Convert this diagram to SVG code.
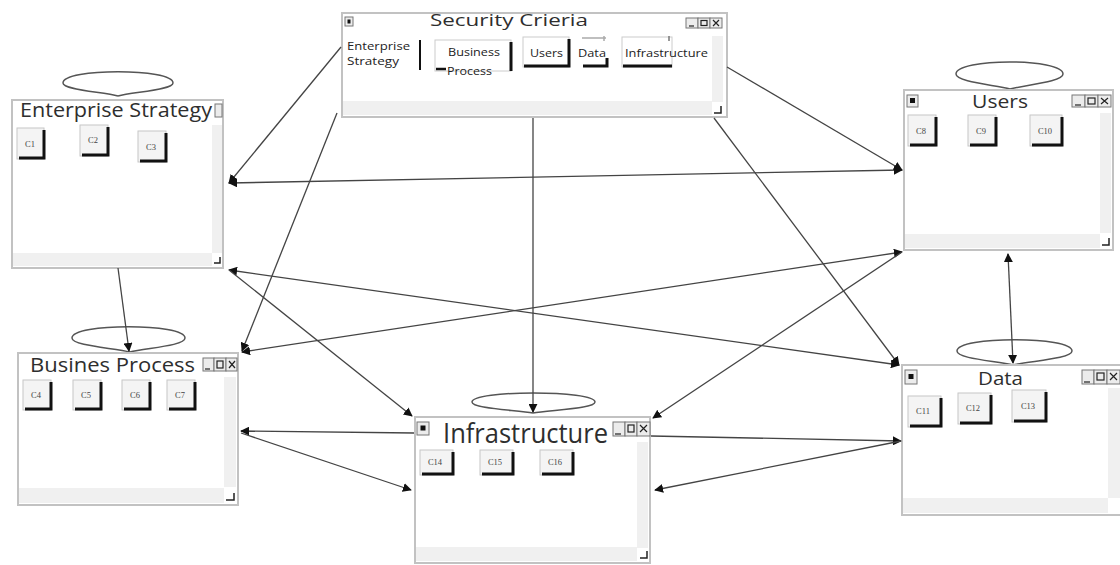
<svg xmlns="http://www.w3.org/2000/svg" width="1120" height="565" viewBox="0 0 1120 565">
<defs>
<marker id="ah" viewBox="0 0 10 10" refX="9" refY="5" markerWidth="9" markerHeight="9" markerUnits="userSpaceOnUse" orient="auto-start-reverse">
<path d="M0,0 L10,5 L0,10 z" fill="#111"/>
</marker>
<style>
.frame{fill:#fff;stroke:#c2c2c2;stroke-width:2}
.sb{fill:#f0f0f0;stroke:none}
.grip{fill:none;stroke:#222;stroke-width:1.5}
.title{font-family:"Open Sans","Noto Sans",sans-serif;fill:#2e2e2e}
.btn{fill:#f4f4f4;stroke:#c6c6c6;stroke-width:1}
.sh{fill:none;stroke:#111;stroke-width:3}
.bl{font-family:"Liberation Serif",serif;font-size:8.5px;fill:#444;text-anchor:middle}
.ico{fill:#ececec;stroke:#777;stroke-width:1}
.glyph{fill:none;stroke:#222;stroke-width:1.2}
.loop{fill:none;stroke:#555;stroke-width:1.5}
.con{fill:none;stroke:#444;stroke-width:1.3}
.tab{font-family:"Open Sans","Noto Sans",sans-serif;font-size:10px;fill:#222}
</style>
</defs>
<rect width="1120" height="565" fill="#fff"/>

<!-- Self loops -->
<g id="loops">
<path class="loop" d="M118,96 C103,92 63,90 63,83 C63,68 173,68 173,83 C173,90 133,92 118,96"/>
<path class="loop" d="M1010,89 C995,85 956,82 956,74 C956,58 1063,58 1063,74 C1063,82 1025,85 1010,89"/>
<path class="loop" d="M130,352 C115,348 72,346 72,338 C72,323 185,323 185,338 C185,346 145,348 130,352"/>
<path class="loop" d="M533,413 C518,410 472,409 472,402 C472,390 595,390 595,402 C595,409 548,410 533,413"/>
<path class="loop" d="M1013,365 C998,361 957,359 957,351 C957,336 1072,336 1072,351 C1072,359 1028,361 1013,365"/>
</g>

<!-- Security Crieria -->
<g id="security">
<rect class="frame" x="342" y="13" width="385" height="104"/>
<rect class="sb" x="712" y="36" width="11" height="66"/>
<rect class="sb" x="343" y="101" width="369" height="14"/>
<path class="grip" d="M714,113 H721 V106"/>
<rect class="ico" x="345" y="17" width="8" height="9"/><rect x="347.5" y="19.5" width="3" height="4" fill="#111"/>
<g transform="translate(686,18)">
<rect class="ico" x="0" y="0" width="12" height="10"/><path class="glyph" d="M3,8 H8"/>
<rect class="ico" x="12" y="0" width="12" height="10"/><rect class="glyph" x="15" y="2.5" width="6" height="5"/>
<rect class="ico" x="24" y="0" width="12" height="10"/><path class="glyph" d="M27,2 L33,8 M33,2 L27,8"/>
</g>
<text class="title" x="430" y="26" font-size="17" textLength="158" lengthAdjust="spacingAndGlyphs">Security Crieria</text>
<text class="tab" x="347" y="50" textLength="63" lengthAdjust="spacingAndGlyphs">Enterprise</text>
<text class="tab" x="347" y="65" textLength="52" lengthAdjust="spacingAndGlyphs">Strategy</text>
<path d="M420,40 V70" stroke="#111" stroke-width="2"/>
<rect x="435" y="40" width="76" height="31" fill="#fff" stroke="#ccc"/>
<path d="M511,42 V71" stroke="#111" stroke-width="3"/>
<path d="M436,69 H446" stroke="#111" stroke-width="2.5"/>
<text class="tab" x="448" y="56" textLength="52" lengthAdjust="spacingAndGlyphs">Business</text>
<text class="tab" x="447" y="75" textLength="45" lengthAdjust="spacingAndGlyphs">Process</text>
<rect x="523" y="37" width="46" height="30" fill="#fff" stroke="#ccc"/>
<path class="sh" d="M524,66 H569 V39"/>
<text class="tab" x="530" y="57" textLength="33" lengthAdjust="spacingAndGlyphs">Users</text>
<path d="M582,38 H606 M604,36 V41" stroke="#aaa" stroke-width="1.5"/>
<path class="sh" d="M583,66 H607 V58"/>
<text class="tab" x="578" y="57" textLength="28" lengthAdjust="spacingAndGlyphs">Data</text>
<rect x="622" y="37" width="50" height="30" fill="#fff" stroke="#ccc"/>
<path d="M669,36 V41" stroke="#777" stroke-width="1.5"/>
<path d="M623,66 H672" stroke="#111" stroke-width="3"/>
<text class="tab" x="625" y="57" textLength="83" lengthAdjust="spacingAndGlyphs">Infrastructure</text>
</g>

<!-- Enterprise Strategy -->
<g id="enterprise-strategy">
<rect class="frame" x="12" y="100" width="211" height="168"/>
<rect class="sb" x="212" y="125" width="10" height="128"/>
<rect class="sb" x="13" y="253" width="199" height="13"/>
<path class="grip" d="M214,263 H220 V257"/>
<rect class="ico" x="215" y="104" width="7" height="13"/>
<text class="title" x="20" y="117" font-size="20" textLength="192" lengthAdjust="spacingAndGlyphs">Enterprise Strategy</text>
<rect class="btn" x="17" y="128" width="27" height="31"/><path class="sh" d="M19,158 H44 V130"/><text class="bl" x="30" y="147">C1</text>
<rect class="btn" x="80" y="125" width="28" height="31"/><path class="sh" d="M82,155 H108 V127"/><text class="bl" x="93" y="143">C2</text>
<rect class="btn" x="138" y="131" width="28" height="31"/><path class="sh" d="M140,161 H166 V133"/><text class="bl" x="151" y="150">C3</text>
</g>

<!-- Users -->
<g id="users">
<rect class="frame" x="904" y="90" width="209" height="160"/>
<rect class="sb" x="1100" y="113" width="11" height="120"/>
<rect class="sb" x="905" y="234" width="195" height="14"/>
<path class="grip" d="M1102,245 H1109 V238"/>
<rect class="ico" x="907" y="95" width="11" height="12"/><rect x="910" y="98" width="5" height="5" fill="#111"/>
<g transform="translate(1072,95)">
<rect class="ico" x="0" y="0" width="13" height="12"/><path class="glyph" d="M3,10 H9"/>
<rect class="ico" x="13" y="0" width="13" height="12"/><rect class="glyph" x="16" y="3" width="7" height="6"/>
<rect class="ico" x="26" y="0" width="13" height="12"/><path class="glyph" d="M29,3 L36,9 M36,3 L29,9"/>
</g>
<text class="title" x="972" y="108" font-size="19" textLength="56" lengthAdjust="spacingAndGlyphs">Users</text>
<rect class="btn" x="908" y="115" width="28" height="31"/><path class="sh" d="M910,145 H936 V117"/><text class="bl" x="921" y="134">C8</text>
<rect class="btn" x="968" y="115" width="28" height="31"/><path class="sh" d="M970,145 H996 V117"/><text class="bl" x="981" y="134">C9</text>
<rect class="btn" x="1030" y="115" width="32" height="31"/><path class="sh" d="M1032,145 H1062 V117"/><text class="bl" x="1045" y="134">C10</text>
</g>

<!-- Busines Process -->
<g id="business-process">
<rect class="frame" x="18" y="353" width="220" height="152"/>
<rect class="sb" x="224" y="377" width="12" height="110"/>
<rect class="sb" x="19" y="488" width="205" height="15"/>
<path class="grip" d="M226,500 H234 V493"/>
<g transform="translate(203,358)">
<rect class="ico" x="0" y="0" width="11" height="13"/><path class="glyph" d="M2,11 H7"/>
<rect class="ico" x="11" y="0" width="12" height="13"/><rect class="glyph" x="14" y="3" width="6" height="7"/>
<rect class="ico" x="23" y="0" width="11" height="13"/><path class="glyph" d="M26,3 L32,10 M32,3 L26,10"/>
</g>
<text class="title" x="30" y="372" font-size="20" textLength="165" lengthAdjust="spacingAndGlyphs">Busines Process</text>
<rect class="btn" x="23" y="380" width="28" height="30"/><path class="sh" d="M25,409 H51 V382"/><text class="bl" x="36" y="398">C4</text>
<rect class="btn" x="73" y="380" width="28" height="30"/><path class="sh" d="M75,409 H101 V382"/><text class="bl" x="86" y="398">C5</text>
<rect class="btn" x="122" y="380" width="28" height="30"/><path class="sh" d="M124,409 H150 V382"/><text class="bl" x="135" y="398">C6</text>
<rect class="btn" x="167" y="380" width="28" height="30"/><path class="sh" d="M169,409 H195 V382"/><text class="bl" x="180" y="398">C7</text>
</g>

<!-- Infrastructure -->
<g id="infrastructure">
<rect class="frame" x="415" y="417" width="235" height="146"/>
<rect class="sb" x="637" y="442" width="11" height="106"/>
<rect class="sb" x="416" y="547" width="221" height="14"/>
<path class="grip" d="M640,558 H647 V551"/>
<rect class="ico" x="417" y="422" width="12" height="13"/><rect x="420.5" y="425.5" width="5" height="5" fill="#111"/>
<g transform="translate(613,422)">
<rect class="ico" x="0" y="0" width="12" height="14"/><path class="glyph" d="M2,12 H8"/>
<rect class="ico" x="12" y="0" width="12" height="14"/><rect class="glyph" x="15" y="3" width="6" height="7"/>
<rect class="ico" x="24" y="0" width="13" height="14"/><path class="glyph" d="M27,3 L34,10 M34,3 L27,10"/>
</g>
<text class="title" x="443" y="443" font-size="27" textLength="165" lengthAdjust="spacingAndGlyphs">Infrastructure</text>
<rect class="btn" x="420" y="450" width="33" height="25"/><path class="sh" d="M422,474 H453 V452"/><text class="bl" x="435" y="465">C14</text>
<rect class="btn" x="480" y="450" width="33" height="25"/><path class="sh" d="M482,474 H513 V452"/><text class="bl" x="495" y="465">C15</text>
<rect class="btn" x="540" y="450" width="33" height="25"/><path class="sh" d="M542,474 H573 V452"/><text class="bl" x="555" y="465">C16</text>
</g>

<!-- Data -->
<g id="data">
<rect class="frame" x="902" y="365" width="225" height="150"/>
<rect class="sb" x="1108" y="388" width="12" height="110"/>
<rect class="sb" x="903" y="498" width="205" height="15"/>
<rect class="ico" x="905" y="370" width="12" height="14"/><rect x="908.5" y="374" width="5" height="5" fill="#111"/>
<g transform="translate(1082,370)">
<rect class="ico" x="0" y="0" width="12" height="14"/><path class="glyph" d="M2,12 H8"/>
<rect class="ico" x="12" y="0" width="13" height="14"/><rect class="glyph" x="15" y="3" width="7" height="7"/>
<rect class="ico" x="25" y="0" width="13" height="14"/><path class="glyph" d="M28,3 L35,10 M35,3 L28,10"/>
</g>
<text class="title" x="978" y="385" font-size="19" textLength="45" lengthAdjust="spacingAndGlyphs">Data</text>
<rect class="btn" x="908" y="396" width="33" height="31"/><path class="sh" d="M910,426 H941 V398"/><text class="bl" x="923" y="414">C11</text>
<rect class="btn" x="958" y="393" width="33" height="31"/><path class="sh" d="M960,423 H991 V395"/><text class="bl" x="973" y="411">C12</text>
<rect class="btn" x="1012" y="390" width="34" height="32"/><path class="sh" d="M1014,421 H1046 V392"/><text class="bl" x="1028" y="409">C13</text>
</g>

<!-- Connectors -->
<g id="connectors">
<line class="con" x1="341" y1="47" x2="229" y2="183" marker-end="url(#ah)"/>
<line class="con" x1="229" y1="183" x2="902" y2="170" marker-start="url(#ah)" marker-end="url(#ah)"/>
<line class="con" x1="337" y1="113" x2="242" y2="351" marker-end="url(#ah)"/>
<line class="con" x1="902" y1="252" x2="242" y2="352" marker-start="url(#ah)" marker-end="url(#ah)"/>
<line class="con" x1="533" y1="118" x2="533" y2="412" marker-end="url(#ah)"/>
<line class="con" x1="727" y1="67" x2="902" y2="170" marker-end="url(#ah)"/>
<line class="con" x1="714" y1="118" x2="899" y2="365" marker-end="url(#ah)"/>
<line class="con" x1="229" y1="270" x2="899" y2="365" marker-start="url(#ah)" marker-end="url(#ah)"/>
<line class="con" x1="229" y1="270" x2="412" y2="416" marker-end="url(#ah)"/>
<line class="con" x1="118" y1="268" x2="129" y2="351" marker-end="url(#ah)"/>
<line class="con" x1="902" y1="252" x2="653" y2="418" marker-end="url(#ah)"/>
<line class="con" x1="1008" y1="254" x2="1013" y2="363" marker-start="url(#ah)" marker-end="url(#ah)"/>
<line class="con" x1="414" y1="433" x2="241" y2="431" marker-end="url(#ah)"/>
<line class="con" x1="241" y1="433" x2="411" y2="490" marker-end="url(#ah)"/>
<line class="con" x1="651" y1="436" x2="901" y2="441" marker-end="url(#ah)"/>
<line class="con" x1="901" y1="441" x2="655" y2="490" marker-end="url(#ah)"/>
</g>
</svg>
